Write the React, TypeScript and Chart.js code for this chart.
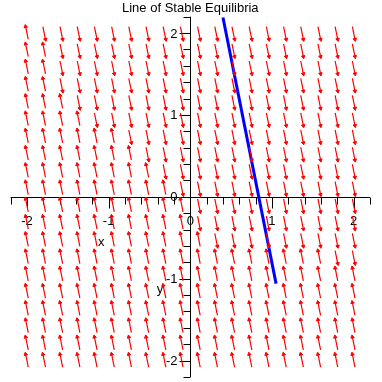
import React, { useEffect, useRef } from "react";
import { Chart, registerables } from "chart.js";

Chart.register(...registerables);

const TITLE = "Line of Stable Equilibria";
const X_RANGE = [-2.2, 2.2];
const Y_RANGE = [-2.2, 2.2];

// direction-field sample points
const gridX = [-2, -1.789, -1.579, -1.368, -1.158, -0.947, -0.737, -0.526, -0.316, -0.105, 0.105, 0.316, 0.526, 0.737, 0.947, 1.158, 1.368, 1.579, 1.789, 2];
const gridY = [2, 1.789, 1.579, 1.368, 1.158, 0.947, 0.737, 0.526, 0.316, 0.105, -0.105, -0.316, -0.526, -0.737, -0.947, -1.158, -1.368, -1.579, -1.789, -2];

// arrow head side per row (top to bottom): d = pointing down-right, u = pointing up-left
const arrowDir = [
  "uddddddddddddddddddd",
  "uudddddddddddddddddd",
  "uudddddddddddddddddd",
  "uudddddddddddddddddd",
  "uuuddddddddddddddddd",
  "uuuudddddddddddddddd",
  "uuuuuudddddddddddddd",
  "uuuuuuuddddddddddddd",
  "uuuuuuuudddddddddddd",
  "uuuuuuuuuddddddddddd",
  "uuuuuuuuuudddddddddd",
  "uuuuuuuuuudddddddddd",
  "uuuuuuuuuuuddddddddd",
  "uuuuuuuuuuuuuuuuuudd",
  "uuuuuuuuuuuuuuuuuuuu",
  "uuuuuuuuuuuuuuuuuuuu",
  "uuuuuuuuuuuuuuuuuuuu",
  "uuuuuuuuuuuuuuuuuuuu",
  "uuuuuuuuuuuuuuuuuuuu",
  "uuuuuuuuuuuuuuuuuuuu",
];

// half arrow vector (data units), along the field direction (1, -5)
const arrowHalf = { dx: 0.016, dy: -0.079 };

// line of stable equilibria
const eqX = [0.4, 1.05];
const eqY = [2.19, -1.06];

const xTickValues = [-2, -1, 0, 1, 2];
const xTickLabels = ["-2", "-1", "0", "1", "2"];
const yTickValues = [2, 1, 0, -1, -2];
const yTickLabels = ["2", "1", "0", "-1", "-2"];
const MINOR_STEP = 0.2;

const xTitlePos = [-1.09, -0.56];
const yTitlePos = [-0.37, -1.13];

const FONT = '13px "Liberation Sans", Arial, sans-serif';

const segs: any[] = [];
const heads: any[] = [];
const headRot: number[] = [];
const rotAngle = (Math.atan(arrowHalf.dx / Math.abs(arrowHalf.dy)) * 180) / Math.PI;
gridY.forEach((yv, j) => {
  gridX.forEach((xv, i) => {
    const d = arrowDir[j][i];
    const a = { x: xv - arrowHalf.dx, y: yv - arrowHalf.dy }; // upper-left end
    const b = { x: xv + arrowHalf.dx, y: yv + arrowHalf.dy }; // lower-right end
    segs.push(a, b, { x: xv, y: null });
    if (d === "d") {
      heads.push(b);
      headRot.push(180 - rotAngle);
    } else {
      heads.push(a);
      headRot.push(-rotAngle);
    }
  });
});

const axesPlugin = {
  id: "crossAxes",
  beforeDatasetsDraw(chart: any) {
    const { ctx, scales } = chart;
    const xs = scales.x;
    const ys = scales.y;
    const x0 = Math.round(xs.getPixelForValue(0)) + 0.5;
    const y0 = Math.round(ys.getPixelForValue(0)) + 0.5;
    ctx.save();
    ctx.strokeStyle = "#000";
    ctx.lineWidth = 1;
    ctx.beginPath();
    ctx.moveTo(xs.getPixelForValue(X_RANGE[0]), y0);
    ctx.lineTo(xs.getPixelForValue(X_RANGE[1]), y0);
    ctx.moveTo(x0, ys.getPixelForValue(Y_RANGE[1]));
    ctx.lineTo(x0, ys.getPixelForValue(Y_RANGE[0]));
    const nx = Math.round((X_RANGE[1] - X_RANGE[0]) / MINOR_STEP);
    for (let k = 0; k <= nx; k++) {
      const v = X_RANGE[0] + k * MINOR_STEP;
      const major = Math.abs(v - Math.round(v)) < 1e-6;
      const px = Math.round(xs.getPixelForValue(v)) + 0.5;
      ctx.moveTo(px, y0);
      ctx.lineTo(px, y0 + (major ? 11 : 7));
    }
    const ny = Math.round((Y_RANGE[1] - Y_RANGE[0]) / MINOR_STEP);
    for (let k = 0; k <= ny; k++) {
      const v = Y_RANGE[0] + k * MINOR_STEP;
      const major = Math.abs(v - Math.round(v)) < 1e-6;
      const py = Math.round(ys.getPixelForValue(v)) + 0.5;
      ctx.moveTo(x0, py);
      ctx.lineTo(x0 - (major ? 11 : 7), py);
    }
    ctx.stroke();

    ctx.fillStyle = "#000";
    ctx.font = FONT;
    ctx.textBaseline = "middle";
    ctx.textAlign = "center";
    xTickValues.forEach((v, i) => {
      ctx.fillText(xTickLabels[i], xs.getPixelForValue(v), y0 + 24);
    });
    ctx.textAlign = "right";
    yTickValues.forEach((v, i) => {
      ctx.fillText(yTickLabels[i], x0 - 13, ys.getPixelForValue(v) + 1);
    });
    ctx.textAlign = "center";
    ctx.fillText("x", xs.getPixelForValue(xTitlePos[0]), ys.getPixelForValue(xTitlePos[1]));
    ctx.fillText("y", xs.getPixelForValue(yTitlePos[0]), ys.getPixelForValue(yTitlePos[1]));
    ctx.restore();
  },
};

export default function App() {
  const ref = useRef<HTMLCanvasElement | null>(null);
  useEffect(() => {
    if (!ref.current) return;
    const chart = new Chart(ref.current, {
      type: "scatter",
      data: {
        datasets: [
          {
            label: "field",
            data: segs,
            showLine: true,
            spanGaps: false,
            borderColor: "#ff0000",
            borderWidth: 1.2,
            pointRadius: 0,
          } as any,
          {
            label: "heads",
            data: heads,
            showLine: false,
            pointStyle: "triangle",
            pointRadius: 2,
            pointRotation: headRot,
            backgroundColor: "#ff0000",
            borderColor: "#ff0000",
            borderWidth: 1,
          } as any,
          {
            label: "equilibria",
            data: eqX.map((x, i) => ({ x, y: eqY[i] })),
            showLine: true,
            borderColor: "#0000ff",
            borderWidth: 3,
            pointRadius: 0,
          } as any,
        ],
      },
      options: {
        animation: false,
        responsive: false,
        layout: { padding: { left: 10.6, right: 12, top: 0, bottom: 4.6 } },
        scales: {
          x: { type: "linear", min: X_RANGE[0], max: X_RANGE[1], display: false },
          y: { type: "linear", min: Y_RANGE[0], max: Y_RANGE[1], display: false },
        },
        plugins: {
          legend: { display: false },
          tooltip: { enabled: false },
          title: {
            display: true,
            text: TITLE,
            color: "#000",
            font: { family: '"Liberation Sans", Arial, sans-serif', size: 13, weight: "normal", lineHeight: 1.2 },
            padding: { top: 1, bottom: 0 },
          },
        },
      },
      plugins: [axesPlugin],
    });
    return () => chart.destroy();
  }, []);
  return (
    <div style={{ position: "fixed", left: 0, top: 0, width: 382, height: 382, background: "#fff" }}>
      <canvas ref={ref} width={382} height={382} style={{ display: "block" }} />
    </div>
  );
}
